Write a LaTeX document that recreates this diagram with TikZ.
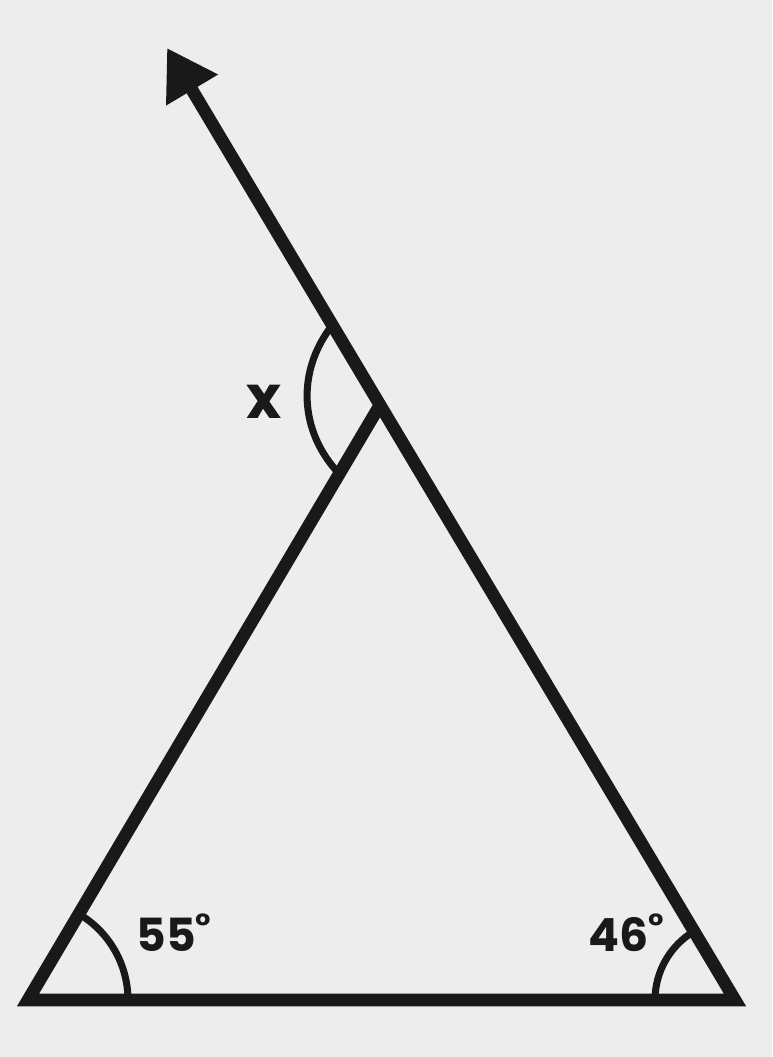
\documentclass[tikz,border=0pt]{standalone}
\usepackage{fontspec}
\setmainfont{Poppins}
\usetikzlibrary{calc,positioning,arrows.meta}

\tikzset{
  side/.style={line width=7.2pt, line join=miter, draw=black!90},
  anglearc/.style={line width=4pt, draw=black!90},
  anglelabel/.style={font=\fontsize{26}{28}\selectfont\bfseries, text=black!90, inner sep=0pt}
}
\newcommand{\degmark}{\raisebox{0.3em}{\fontsize{19}{19}\selectfont °}}

\begin{document}
\begin{tikzpicture}[x=0.02cm,y=0.02cm]
       \fill[black!7] (0,0) rectangle (772,1057);
       \useasboundingbox (0,0) rectangle (772,1057);
       % corners of the triangle and the arrow tip
       \coordinate (A) at (28,57);
       \coordinate (B) at (735,57);
       \coordinate (C) at (380,652);
       \coordinate (T) at (167,1009);
       \draw[side,-{Triangle[length=0.98cm,width=1.14cm]}] (C) -- (A) -- (B) -- (T);
       % angle marks
       \draw[anglearc] ($(A)+(2cm,0)$) arc[start angle=0,end angle=59.4,radius=2cm];
       \draw[anglearc] ($(B)+(-1.6cm,0)$) arc[start angle=180,end angle=120.8,radius=1.6cm];
       \coordinate (U) at ($(C)!1.86cm!(T)$);
       \coordinate (L) at ($(C)!1.6cm!(A)$);
       \draw[anglearc] (U) to[bend right=41] (L);
       % labels
       \node[anglelabel] (a55) at (174,124) {55\degmark};
       \node[anglelabel] (a46) at (626,124) {46\degmark};
       \node[anglelabel,font=\fontsize{34}{36}\selectfont\bfseries] (ax) at (264,655) {x};
\end{tikzpicture}
\end{document}
